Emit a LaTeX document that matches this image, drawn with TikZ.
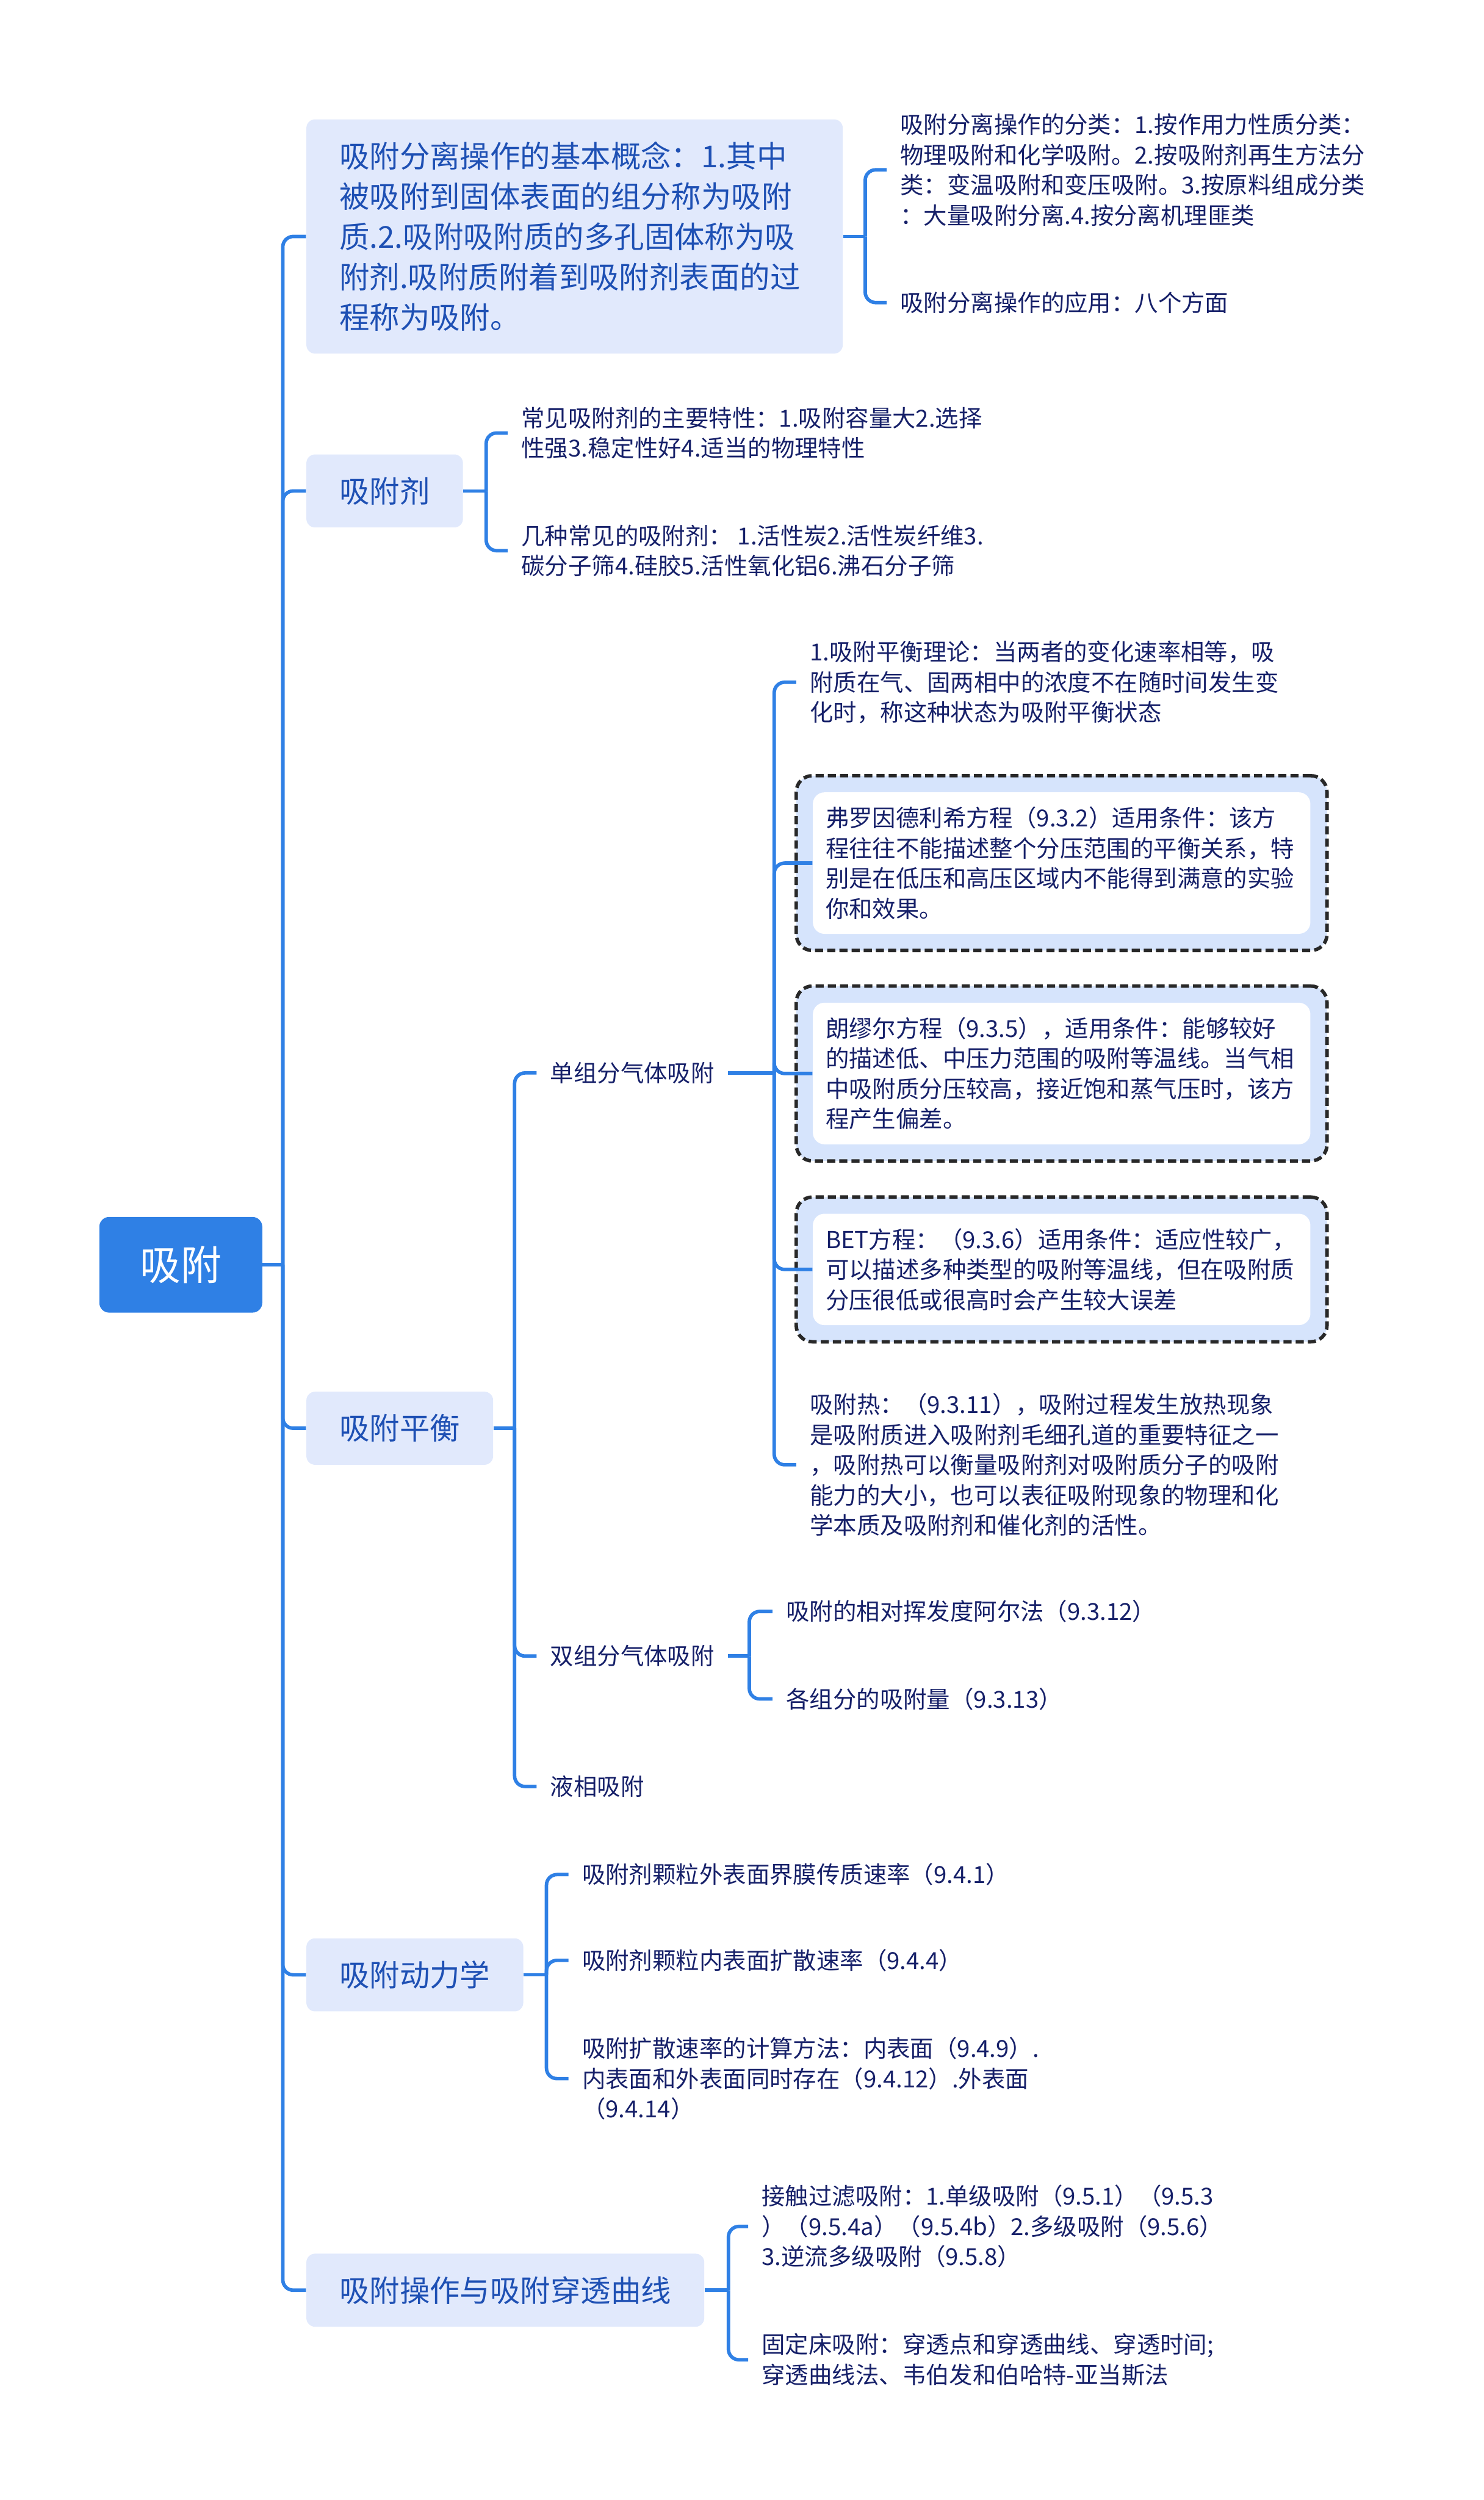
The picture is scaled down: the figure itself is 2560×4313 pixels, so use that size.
\documentclass[tikz,border=0pt]{standalone}
\usepackage{fontspec}
\setmainfont{Noto Sans CJK SC}
\usepackage{xcolor}
\usetikzlibrary{fit,backgrounds}
\definecolor{mainblue}{RGB}{47,128,229}
\definecolor{topicfill}{RGB}{225,233,252}
\definecolor{topictext}{RGB}{30,80,180}
\definecolor{leaftext}{RGB}{22,32,105}
\definecolor{framefill}{RGB}{214,228,252}
\definecolor{framedash}{RGB}{40,40,40}

\begin{document}
\begin{tikzpicture}[
      x=0.01cm, y=-0.01cm,
      rootbox/.style={fill=mainblue, rounded corners=0.17cm, text=white, minimum width=2.81cm,
                      minimum height=1.65cm, font=\fontsize{20}{24}\selectfont},
      topicbox/.style={fill=topicfill, rounded corners=0.15cm, text=topictext, anchor=west,
                       inner xsep=0.57cm, minimum height=1.26cm, font=\fontsize{14.8}{19.75}\selectfont},
      leafnode/.style={anchor=west, inner xsep=0.23cm, inner ysep=0pt, align=left, text=leaftext,
                       font=\fontsize{11.5}{14.8}\selectfont},
      cardbox/.style={leafnode, fill=white, rounded corners=0.2cm, inner xsep=0.22cm,
                      inner ysep=0.25cm, text width=8.14cm},
      cardframe/.style={fill=framefill, draw=framedash, line width=0.06cm,
                        dash pattern=on 0.14cm off 0.07cm, rounded corners=0.28cm, inner sep=0.28cm},
      branch/.style={draw=mainblue, line width=0.06cm, rounded corners=0.18cm}
    ]
      \useasboundingbox (0,0) rectangle (2560,4313);

      \node[rootbox] (root) at (312,2182) {吸附};

      \node[topicbox, text width=8.11cm, align=left, minimum height=4.04cm] (concept) at (528,408) {吸附分离操作的基本概念：1.其中\\被吸附到固体表面的组分称为吸附\\质.2.吸附吸附质的多孔固体称为吸\\附剂.吸附质附着到吸附剂表面的过\\程称为吸附。};
      \node[topicbox] (agent) at (528,847) {吸附剂};
      \node[topicbox] (equil) at (528,2464) {吸附平衡};
      \node[topicbox] (kinet) at (528,3407) {吸附动力学};
      \node[topicbox] (oper)  at (528,3951) {吸附操作与吸附穿透曲线};

      \node[leafnode] (classify) at (1530,293) {吸附分离操作的分类：1.按作用力性质分类：\\物理吸附和化学吸附。2.按吸附剂再生方法分\\类：变温吸附和变压吸附。3.按原料组成分类\\：大量吸附分离.4.按分离机理匪类};
      \node[leafnode] (usage) at (1530,522) {吸附分离操作的应用：八个方面};

      \node[leafnode] (traits) at (876,747) {常见吸附剂的主要特性：1.吸附容量大2.选择\\性强3.稳定性好4.适当的物理特性};
      \node[leafnode] (kinds)  at (876,950) {几种常见的吸附剂： 1.活性炭2.活性炭纤维3.\\碳分子筛4.硅胶5.活性氧化铝6.沸石分子筛};

      \node[leafnode] (single) at (926,1851) {单组分气体吸附};
      \node[leafnode] (binary) at (926,2857) {双组分气体吸附};
      \node[leafnode] (liquid) at (926,3082) {液相吸附};

      \node[leafnode] (theory) at (1374,1177) {1.吸附平衡理论：当两者的变化速率相等，吸\\附质在气、固两相中的浓度不在随时间发生变\\化时，称这种状态为吸附平衡状态};
      \node[cardbox] (freund) at (1402,1489) {弗罗因德利希方程（9.3.2）适用条件：该方\\程往往不能描述整个分压范围的平衡关系，特\\别是在低压和高压区域内不能得到满意的实验\\你和效果。};
      \node[cardbox] (langm) at (1402,1852) {朗缪尔方程（9.3.5），适用条件：能够较好\\的描述低、中压力范围的吸附等温线。当气相\\中吸附质分压较高，接近饱和蒸气压时，该方\\程产生偏差。};
      \node[cardbox] (bet) at (1402,2190) {BET方程：（9.3.6）适用条件：适应性较广，\\可以描述多种类型的吸附等温线，但在吸附质\\分压很低或很高时会产生较大误差};
      \node[leafnode] (heat) at (1374,2527) {吸附热：（9.3.11），吸附过程发生放热现象\\是吸附质进入吸附剂毛细孔道的重要特征之一\\，吸附热可以衡量吸附剂对吸附质分子的吸附\\能力的大小，也可以表征吸附现象的物理和化\\学本质及吸附剂和催化剂的活性。};

      \node[leafnode] (alpha)  at (1333,2780) {吸附的相对挥发度阿尔法（9.3.12）};
      \node[leafnode] (amount) at (1333,2931) {各组分的吸附量（9.3.13）};

      \node[leafnode] (outer) at (981,3234) {吸附剂颗粒外表面界膜传质速率（9.4.1）};
      \node[leafnode] (inner) at (981,3382) {吸附剂颗粒内表面扩散速率（9.4.4）};
      \node[leafnode] (calc)  at (981,3586) {吸附扩散速率的计算方法：内表面（9.4.9）.\\内表面和外表面同时存在（9.4.12）.外表面\\（9.4.14）};

      \node[leafnode] (contact) at (1291,3841) {接触过滤吸附：1.单级吸附（9.5.1）（9.5.3\\）（9.5.4a）（9.5.4b）2.多级吸附（9.5.6）\\3.逆流多级吸附（9.5.8）};
      \node[leafnode] (fixed)   at (1291,4071) {固定床吸附：穿透点和穿透曲线、穿透时间;\\穿透曲线法、韦伯发和伯哈特-亚当斯法};

      \begin{scope}[on background layer]
        \node[cardframe, fit=(freund)] (freund-f) {};
        \node[cardframe, fit=(langm)]  (langm-f)  {};
        \node[cardframe, fit=(bet)]    (bet-f)    {};
      \end{scope}

      \coordinate (root-j)    at (488,2182);
      \coordinate (concept-j) at (1493,408);
      \coordinate (agent-j)   at (839,847);
      \coordinate (equil-j)   at (888,2464);
      \coordinate (single-j)  at (1336,1851);
      \coordinate (binary-j)  at (1293,2857);
      \coordinate (kinet-j)   at (943,3407);
      \coordinate (oper-j)    at (1257,3951);

      \draw[branch] (root.east) -- (root-j);
      \draw[branch] (root-j) |- (concept.west);
      \draw[branch] (root-j) |- (agent.west);
      \draw[branch] (root-j) |- (equil.west);
      \draw[branch] (root-j) |- (kinet.west);
      \draw[branch] (root-j) |- (oper.west);

      \draw[branch] (concept.east) -- (concept-j);
      \draw[branch] (concept-j) |- (classify.west);
      \draw[branch] (concept-j) |- (usage.west);

      \draw[branch] (agent.east) -- (agent-j);
      \draw[branch] (agent-j) |- (traits.west);
      \draw[branch] (agent-j) |- (kinds.west);

      \draw[branch] (equil.east) -- (equil-j);
      \draw[branch] (equil-j) |- (single.west);
      \draw[branch] (equil-j) |- (binary.west);
      \draw[branch] (equil-j) |- (liquid.west);

      \draw[branch] (single.east) -- (single-j);
      \draw[branch] (single-j) |- (theory.west);
      \draw[branch] (single-j) |- (freund.west);
      \draw[branch] (single-j) |- (langm.west);
      \draw[branch] (single-j) |- (bet.west);
      \draw[branch] (single-j) |- (heat.west);

      \draw[branch] (binary.east) -- (binary-j);
      \draw[branch] (binary-j) |- (alpha.west);
      \draw[branch] (binary-j) |- (amount.west);

      \draw[branch] (kinet.east) -- (kinet-j);
      \draw[branch] (kinet-j) |- (outer.west);
      \draw[branch] (kinet-j) |- (inner.west);
      \draw[branch] (kinet-j) |- (calc.west);

      \draw[branch] (oper.east) -- (oper-j);
      \draw[branch] (oper-j) |- (contact.west);
      \draw[branch] (oper-j) |- (fixed.west);
    \end{tikzpicture}
\end{document}
